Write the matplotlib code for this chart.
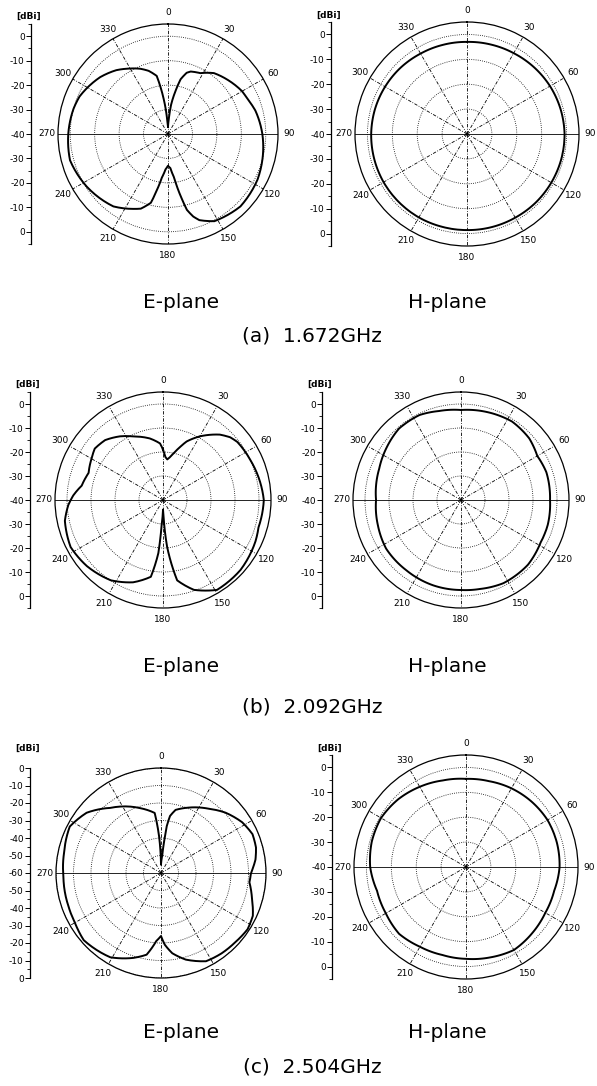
import numpy as np
import matplotlib.pyplot as plt

plt.rcParams['font.family'] = ['DejaVu Sans']

# ---- pattern data (angle in deg, gain in dBi) ----
# (a) 1.672 GHz
ang_a_e = [0, 3, 6, 10, 13, 17, 20, 28, 37, 48, 60, 66, 75, 90, 105, 117, 135, 152, 160, 163,
           166, 168, 172, 176, 180, 184, 188, 191, 194, 200, 205, 217, 237, 255, 270, 285, 293,
           310, 321, 328, 337, 343, 349, 353, 357, 360]
db_a_e = [-37, -34, -28, -22, -17, -13.8, -12.8, -11.8, -8.8, -7, -5, -4.5, -3, -1.4, 0, 1.1, 1.9,
          0.4, -2.5, -4.7, -8, -13, -22, -26, -27, -25.5, -22, -17, -11, -7.5, -6.2, -2.9, -0.4,
          1.5, 0.8, 0, -0.7, -3.8, -6.4, -8.5, -11, -13, -15.8, -25.6, -35, -37]

ang_a_h = list(range(0, 361, 15))
db_a_h = [-3, -2.8, -2.5, -2, -1.5, -1.1, -0.8, -0.8, -0.9, -1, -1.2, -1.3, -1.4, -1.4, -1.3,
          -1.3, -1.3, -1.4, -1.5, -1.7, -2, -2.3, -2.7, -2.9, -3]

# (b) 2.092 GHz
ang_b_e = [0, 3, 6, 9, 13, 18, 22, 30, 41, 47, 52, 65, 74, 90, 106, 114, 132, 149, 161, 170,
           175, 178, 180, 183, 185, 189, 200, 213, 229, 243, 258, 267, 273, 280, 290, 300, 307,
           316, 326, 335, 348, 357, 360]
db_b_e = [-19, -22, -23, -22, -20, -16.7, -13.7, -9.4, -3.9, -1.7, -0.7, 0, 0.7, 2, 1.4, 2.2,
          3.5, 3.7, -0.4, -6, -20.5, -33, -36, -30, -17.8, -7.6, -3.5, -0.1, 2, 3.2, 1.8, -0.5,
          -2.6, -5.6, -7, -5.6, -4.4, -5.3, -8, -10.8, -13.8, -16.4, -19]

ang_b_h = [0, 16, 33, 48, 60, 72, 90, 106, 118, 134, 153, 168, 180, 198, 218, 237, 253, 270,
           291, 305, 319, 334, 346, 360]
db_b_h = [-2.5, -1.8, -1, -1.7, -3.3, -2.6, -2.9, -2.4, -2.4, -1.2, -1.1, -2.1, -2.5, -2.6,
          -2.9, -2.8, -3.8, -4.6, -3.5, -2.1, -0.6, -0.6, -1.8, -2.5]

# (c) 2.504 GHz
ang_c_e = [0, 4, 6, 7, 9, 13, 23, 37, 47, 58, 67, 75, 82, 90, 96, 106, 115, 123, 133, 143, 153,
           164, 172, 177, 180, 184, 190, 198, 211, 229, 240, 250, 268, 282, 297, 309, 322, 342,
           354, 357, 360]
db_c_e = [-55, -50, -40, -33, -27, -23, -19.4, -14.1, -9.5, -5.3, -3.2, -3.8, -5.5, -8.6, -9.2,
          -5.9, -2.1, -1, -2, -2.5, -3.4, -8.5, -13.7, -19, -24, -21, -12.6, -9, -3.8, -1.5,
          -3.2, -3.8, -4.2, -3.4, -1.5, -5.3, -12.8, -21, -25.5, -39, -55]

ang_c_h = list(range(0, 361, 15))
db_c_h = [-4.6, -4.3, -3.5, -2.8, -2.2, -2.2, -2.4, -3.3, -3.2, -2.4, -1.5, -2.4, -3.1, -3.4,
          -3, -2, -2.8, -3, -1.5, -0.8, -0.6, -1.5, -2.8, -4, -4.6]

theta_labels = ['0', '30', '60', '90', '120', '150', '180', '210', '240', '270', '300', '330']
captions = ['(a)  1.672GHz', '(b)  2.092GHz', '(c)  2.504GHz']

W, H = 597, 1086
fig = plt.figure(figsize=(W / 100, H / 100), dpi=100)
fig.patch.set_facecolor('white')


def px_rect(x0, y0, w, h):
    return [x0 / W, 1 - (y0 + h) / H, w / W, h / H]


def pattern(ang, db, rmin, rmax, cx, cy, R, axis_x):
    ax = fig.add_axes(px_rect(cx - R, cy - R, 2 * R, 2 * R), projection='polar')
    ax.set_theta_zero_location('N')
    ax.set_theta_direction(-1)
    ax.set_rlim(rmin, rmax)
    rings = list(range(rmin + 10, 1, 10))
    ax.set_rgrids(rings, labels=[''] * len(rings))
    ax.yaxis.grid(True, color='k', lw=0.6, ls=(0, (1, 1.6)))
    ax.set_thetagrids(range(0, 360, 30), labels=theta_labels)
    ax.xaxis.grid(False)
    ax.tick_params(axis='x', pad=-2.5, labelsize=6.5)
    for t in range(0, 360, 30):
        ls = '-' if t in (90, 270) else (0, (4, 1.8, 1, 1.8))
        ax.plot(np.deg2rad([t, t]), [rmin, rmax], color='k', lw=0.6, ls=ls)
    line, = ax.plot(np.deg2rad(ang), db, color='k', lw=1.4)
    # draw each segment along the polar grid instead of as a straight chord
    line.get_path()._interpolation_steps = 12
    ax.spines['polar'].set_linewidth(0.9)

    # linear dBi scale at the left
    span = rmax - rmin
    lax = fig.add_axes(px_rect(axis_x, cy - R, 1, 2 * R))
    lax.set_ylim(-span, span)
    for s in ('top', 'right', 'bottom'):
        lax.spines[s].set_visible(False)
    lax.spines['left'].set_linewidth(0.9)
    lax.set_xticks([])
    vals = list(range(0, rmin - 1, -10))
    pos = [v - rmin for v in vals] + [-(v - rmin) for v in vals if v != rmin]
    labs = [str(v) for v in vals] + [str(v) for v in vals if v != rmin]
    lax.set_yticks(pos, labels=labs)
    lax.set_yticks(np.arange(-span, span + 0.1, 5), minor=True)
    lax.tick_params(axis='y', which='major', length=3.5, width=0.7, labelsize=6.5, pad=1)
    lax.tick_params(axis='y', which='minor', length=2, width=0.6)
    lax.annotate('[dBi]', xy=(0, -rmin), xycoords=lax.get_yaxis_transform(),
                 xytext=(-1.5, 14), textcoords='offset points', ha='center', va='center',
                 fontsize=6.5, weight='bold')


pattern(ang_a_e, db_a_e, -40, 5, 168, 134, 110, 31)
pattern(ang_a_h, db_a_h, -40, 5, 467, 134, 112, 331)
pattern(ang_b_e, db_b_e, -40, 5, 163, 500, 108, 30)
pattern(ang_b_h, db_b_h, -40, 5, 461, 500, 108, 322)
pattern(ang_c_e, db_c_e, -60, 0, 161, 873, 105, 30)
pattern(ang_c_h, db_c_h, -40, 5, 466, 867, 112, 332)

for y_pl, y_cap, cap in zip([302, 666, 1032], [336, 707, 1067], captions):
    fig.text(181 / W, 1 - y_pl / H, 'E-plane', ha='center', va='center', fontsize=14.5)
    fig.text(447 / W, 1 - y_pl / H, 'H-plane', ha='center', va='center', fontsize=14.5)
    fig.text(312 / W, 1 - y_cap / H, cap, ha='center', va='center', fontsize=14.5)

fig.savefig('out.png', dpi=100, facecolor='white')
